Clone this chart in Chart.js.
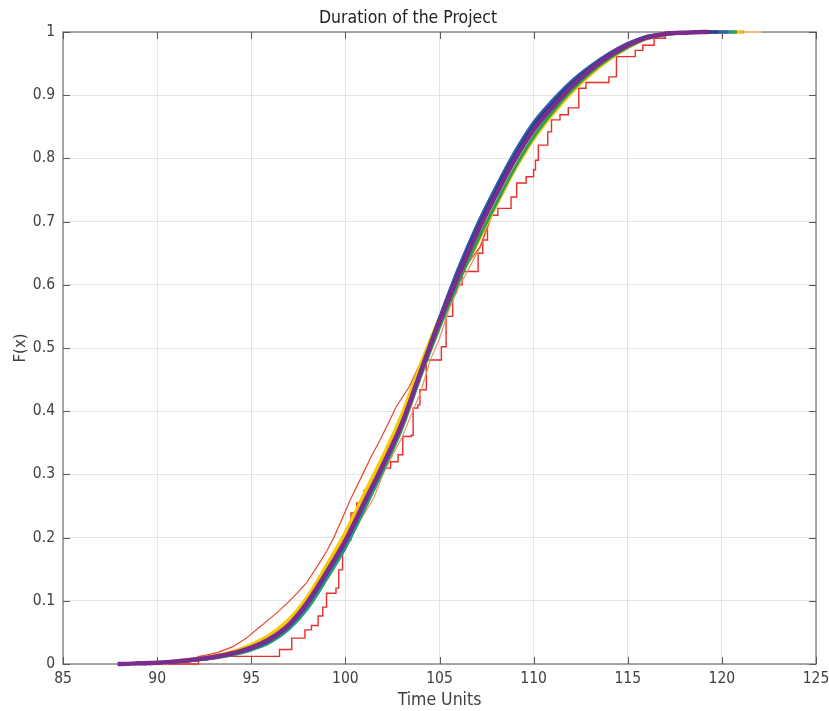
<!DOCTYPE html>
<html>
<head>
<meta charset="utf-8">
<title>Duration of the Project</title>
<script src="https://cdn.jsdelivr.net/npm/chart.js@4.4.1/dist/chart.umd.min.js"></script>
<style>
    html, body { margin: 0; padding: 0; background: #fff; }
</style>
</head>
<body>
<canvas id="cdfChart" width="829" height="711"></canvas>
<script>
// Ticks
const xTicks = [85, 90, 95, 100, 105, 110, 115, 120, 125];
const yTicks = [0, 0.1, 0.2, 0.3, 0.4, 0.5, 0.6, 0.7, 0.8, 0.9, 1];
const yTickLabels = ['0', '0.1', '0.2', '0.3', '0.4', '0.5', '0.6', '0.7', '0.8', '0.9', '1'];

// Common grid of the smooth curves (big samples)
const gridX = [88, 89, 90, 91, 92, 93, 94, 95, 96, 97, 98, 99, 100, 101, 102, 103, 104, 105,
    106, 107, 108, 109, 110, 111, 112, 113, 114, 115, 116, 117, 118, 119, 120, 121, 122];

const purpleF = [0, .001, .002, .004, .007, .011, .017, .026, .040, .062, .098, .145, .195, .255, .315, .38, .462, .542,
    .614, .682, .742, .798, .845, .881, .913, .940, .962, .979, .991, .997, .999, 1, 1, 1, 1];
const blueF = [0, .001, .002, .004, .006, .010, .016, .024, .037, .059, .094, .141, .191, .252, .314, .381, .465, .548,
    .626, .695, .755, .810, .857, .892, .922, .946, .966, .982, .993, .997, .999, 1, 1, 1, 1];
const navyF = [0, .001, .002, .004, .007, .011, .017, .025, .039, .061, .097, .144, .194, .255, .316, .382, .463, .546,
    .620, .689, .749, .804, .852, .887, .918, .943, .964, .980, .992, .997, .999, 1, 1, 1, 1];
const tealF = [0, .001, .002, .003, .006, .010, .015, .023, .036, .057, .091, .137, .187, .248, .310, .377, .458, .545,
    .624, .694, .754, .810, .856, .891, .921, .945, .965, .981, .993, .997, .999, 1, 1, 1, 1];
const greenF = [0, .001, .002, .003, .006, .009, .014, .022, .034, .055, .088, .134, .184, .244, .306, .372, .455, .532,
    .603, .668, .728, .785, .834, .873, .907, .935, .958, .976, .990, .996, .999, 1, 1, 1, 1];
const yellowF = [0, .001, .002, .005, .008, .013, .020, .031, .047, .071, .108, .157, .209, .270, .330, .396, .475, .548,
    .606, .665, .725, .782, .830, .869, .903, .932, .956, .975, .989, .996, .999, 1, 1, 1, 1];
const goldF = [0, .001, .002, .004, .008, .012, .019, .029, .044, .067, .103, .151, .202, .262, .322, .388, .468, .543,
    .608, .670, .727, .782, .831, .870, .904, .932, .956, .975, .989, .996, .999, 1, 1, 1, 1];

// min / max of each big sample (where its curve leaves 0 and reaches 1)
const bandSeries = [
    { name: 'lilac', color: '#b391d6', f: navyF, min: 88.2, max: 121.5, width: 2 },
    { name: 'lightgreen', color: '#a9d18e', f: tealF, min: 89.5, max: 121.9, width: 2 },
    { name: 'peach', color: '#f5b98a', f: goldF, min: 90.5, max: 122.1, width: 2 },
    { name: 'gold', color: '#eba125', f: goldF, min: 90.0, max: 121.2, width: 3 },
    { name: 'yellow', color: '#f5cc00', f: yellowF, min: 90.3, max: 121.0, width: 3 },
    { name: 'green', color: '#2aa050', f: greenF, min: 89.0, max: 120.8, width: 3 },
    { name: 'teal', color: '#1b9e9e', f: tealF, min: 89.6, max: 120.6, width: 3 },
    { name: 'blue', color: '#2f5fb0', f: blueF, min: 88.8, max: 120.3, width: 3 },
    { name: 'navy', color: '#2d3c8c', f: navyF, min: 89.3, max: 119.8, width: 3 },
    { name: 'purple', color: '#7b2d8e', f: purpleF, min: 87.9, max: 119.3, width: 4.5 }
];

// Small sample (coarse stairs)
const redX = [88.6, 92.2, 96.5, 97.15, 97.85, 98.2, 98.55, 98.8, 99.0, 99.5, 99.65, 99.85, 100.0, 100.3, 100.6,
    101.0, 101.4, 101.8, 102.4, 102.8, 103.05, 103.5, 103.6, 103.85, 103.96, 104.3, 105.1, 105.35, 105.7, 105.9,
    106.2, 107.05, 107.3, 107.55, 107.65, 108.1, 108.8, 109.1, 109.6, 110.0, 110.1, 110.25, 110.75, 110.95, 111.4,
    111.84, 112.4, 112.78, 114.0, 114.4, 115.4, 115.8, 116.4, 117.0, 117.6];
const redF = [0, 0.012, 0.023, 0.041, 0.054, 0.061, 0.076, 0.090, 0.112, 0.120, 0.149, 0.180, 0.196, 0.239, 0.255,
    0.275, 0.291, 0.310, 0.320, 0.331, 0.360, 0.362, 0.405, 0.41, 0.434, 0.481, 0.502, 0.550, 0.587, 0.600,
    0.621, 0.650, 0.671, 0.698, 0.710, 0.721, 0.739, 0.761, 0.771, 0.782, 0.797, 0.821, 0.842, 0.861, 0.869,
    0.880, 0.911, 0.920, 0.929, 0.961, 0.971, 0.979, 0.990, 1.0, 1.0];

// Medium samples (fine stairs)
const orangeRedX = [88.9, 91.5, 92.3, 93.2, 94.0, 94.75, 95.3, 95.8, 96.4, 96.9, 97.4, 97.9, 98.5, 99.0, 99.35, 99.8,
    100.25, 100.95, 101.4, 101.84, 102.3, 102.7, 103.4, 104.0, 104.6, 105.2, 105.8, 106.5, 107.15, 107.7, 108.2,
    108.6, 109.3, 109.8, 110.3, 110.9, 111.4, 112.0, 112.46, 113.0, 113.5, 114.2, 114.9, 115.7, 116.5, 117.4];
const orangeRedF = [0, 0.005, 0.012, 0.018, 0.027, 0.041, 0.055, 0.067, 0.082, 0.096, 0.111, 0.127, 0.154, 0.178, 0.198, 0.228,
    0.259, 0.302, 0.33, 0.354, 0.382, 0.407, 0.439, 0.478, 0.52, 0.56, 0.598, 0.633, 0.66, 0.705, 0.735,
    0.758, 0.800, 0.824, 0.845, 0.865, 0.885, 0.908, 0.925, 0.940, 0.955, 0.970, 0.981, 0.990, 0.996, 1];
const salmonX = [89.6, 92, 93, 94, 95, 96, 97, 98, 99, 100, 100.8, 101.5, 102.0, 102.5, 103.0, 103.5, 104.0, 104.5, 105.0,
    105.5, 106.0, 106.6, 107.2, 107.8, 108.4, 109.0, 109.6, 110.2, 110.8, 111.5, 112.2, 113.0, 114.0, 115.0, 116.0, 117.0, 118.2];
const salmonF = [0, 0.006, 0.01, 0.016, 0.024, 0.037, 0.058, 0.092, 0.135, 0.182, 0.228, 0.262, 0.300, 0.330, 0.358, 0.395, 0.43, 0.48, 0.515,
    0.56, 0.595, 0.628, 0.662, 0.71, 0.745, 0.78, 0.81, 0.84, 0.866, 0.892, 0.918, 0.944, 0.968, 0.984, 0.993, 0.998, 1];

const FONT = "'Liberation Sans Narrow', 'DejaVu Sans Condensed', 'Open Sans', sans-serif";
Chart.defaults.font.family = FONT;
Chart.defaults.color = '#404040';

function pairs(xs, fs) {
    return xs.map((x, i) => ({ x: x, y: fs[i] }));
}

// curve of a big sample: 0 at its min, grid values in between, 1 at its max
function bandData(s) {
    const data = [{ x: s.min, y: 0 }];
    gridX.forEach((x, i) => {
        if (x > s.min && x < s.max) {
            data.push({ x: x, y: s.f[i] });
        }
    });
    data.push({ x: s.max, y: 1 });
    return data;
}

const datasets = [];
// first in the list = drawn on top
bandSeries.slice().reverse().forEach(s => {
    datasets.push({
        label: s.name,
        data: bandData(s),
        borderColor: s.color,
        borderWidth: s.width,
        cubicInterpolationMode: 'monotone',
        clip: 6
    });
});
datasets.push({
    label: 'orange-red',
    data: pairs(orangeRedX, orangeRedF),
    borderColor: '#e8462e',
    borderWidth: 1.2,
    clip: 6
});
datasets.push({
    label: 'salmon',
    data: pairs(salmonX, salmonF),
    borderColor: '#f39060',
    borderWidth: 1.2,
    clip: 6
});
datasets.push({
    label: 'red',
    data: pairs(redX, redF),
    borderColor: '#ec2b2b',
    borderWidth: 1.4,
    stepped: true,
    clip: 6
});

// box round the plot and the small inward ticks
const axesBox = {
    id: 'axesBox',
    beforeDatasetsDraw(chart) {
        const { ctx, chartArea: a, scales: { x, y } } = chart;
        ctx.save();
        ctx.strokeStyle = '#8c8c8c';
        ctx.lineWidth = 1.5;
        ctx.strokeRect(a.left, a.top, a.right - a.left, a.bottom - a.top);
        ctx.strokeStyle = '#5a5a5a';
        ctx.lineWidth = 1;
        ctx.beginPath();
        xTicks.forEach(v => {
            const px = Math.round(x.getPixelForValue(v)) + 0.5;
            ctx.moveTo(px, a.bottom);
            ctx.lineTo(px, a.bottom - 7);
            ctx.moveTo(px, a.top);
            ctx.lineTo(px, a.top + 7);
        });
        yTicks.forEach(v => {
            const py = Math.round(y.getPixelForValue(v)) + 0.5;
            ctx.moveTo(a.left, py);
            ctx.lineTo(a.left + 7, py);
            ctx.moveTo(a.right, py);
            ctx.lineTo(a.right - 7, py);
        });
        ctx.stroke();
        ctx.restore();
    }
};

const config = {
    type: 'line',
    data: { datasets },
    options: {
        responsive: false,
        animation: false,
        devicePixelRatio: 1,
        layout: { padding: { left: 0, right: 13, top: 0, bottom: 0 } },
        elements: {
            point: { radius: 0 },
            line: { tension: 0 }
        },
        plugins: {
            legend: { display: false },
            tooltip: { enabled: false },
            title: {
                display: true,
                text: 'Duration of the Project',
                color: '#222',
                font: { size: 17.5, weight: 'normal' },
                padding: { top: 8, bottom: 3 }
            }
        },
        scales: {
            x: {
                type: 'linear',
                min: 85,
                max: 125,
                afterBuildTicks: scale => {
                    scale.ticks = xTicks.map(v => ({ value: v }));
                },
                ticks: {
                    font: { size: 15.5 },
                    color: '#404040',
                    padding: 6,
                    maxRotation: 0,
                    callback: v => String(v)
                },
                grid: { color: '#e4e4e4', lineWidth: 1, drawTicks: false },
                border: { display: false },
                title: {
                    display: true,
                    text: 'Time Units',
                    font: { size: 17.5 },
                    color: '#404040',
                    padding: { top: 0, bottom: 0 }
                },
                afterFit: scale => {
                    scale.height = 47;
                    scale.paddingRight = 13;
                    scale.paddingLeft = 0;
                }
            },
            y: {
                type: 'linear',
                min: 0,
                max: 1,
                afterBuildTicks: scale => {
                    scale.ticks = yTicks.map(v => ({ value: v }));
                },
                ticks: {
                    font: { size: 15.5 },
                    color: '#404040',
                    padding: 8,
                    callback: (v, i) => yTickLabels[i]
                },
                grid: { color: '#e4e4e4', lineWidth: 1, drawTicks: false },
                border: { display: false },
                title: {
                    display: true,
                    text: 'F(x)',
                    font: { size: 16.5 },
                    color: '#404040',
                    padding: { top: 11, bottom: 0 }
                },
                afterFit: scale => { scale.width = 63; }
            }
        }
    },
    plugins: [axesBox]
};

const cdfChart = new Chart(document.getElementById('cdfChart'), config);
</script>
</body>
</html>
